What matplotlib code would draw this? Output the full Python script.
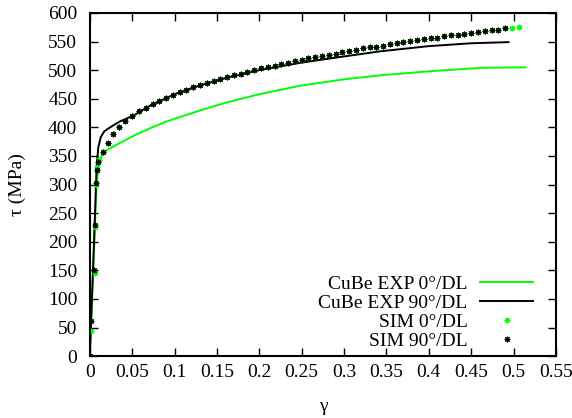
import matplotlib
matplotlib.use("Agg")
import matplotlib.pyplot as plt

## ----------------------------------------------------------------------------
## Data
## ----------------------------------------------------------------------------
exp0_gamma = [0.0, 0.004, 0.008, 0.011, 0.015, 0.020, 0.027, 0.040, 0.054, 0.072,
              0.090, 0.131, 0.160, 0.200, 0.249, 0.300, 0.343, 0.400, 0.461, 0.514]
exp0_tau = [0, 150, 300, 340, 353, 360, 366, 376, 387, 399,
            410, 430, 443, 458, 473, 484, 491, 498, 504, 505]

exp90_gamma = [0.0, 0.005, 0.008, 0.010, 0.013, 0.017, 0.025, 0.035, 0.052, 0.070,
               0.100, 0.131, 0.160, 0.200, 0.249, 0.300, 0.343, 0.400, 0.450, 0.494]
exp90_tau = [0, 200, 330, 365, 383, 393, 401, 410, 421, 437,
             458, 474, 486, 500, 513, 524, 533, 542, 547, 549]

sim_gamma = [0.050, 0.058, 0.066, 0.074, 0.082, 0.090, 0.098, 0.106, 0.114, 0.122,
             0.130, 0.138, 0.146, 0.154, 0.162, 0.170, 0.178, 0.186, 0.194, 0.202,
             0.210, 0.218, 0.226, 0.234, 0.242, 0.250, 0.258, 0.266, 0.274, 0.282,
             0.290, 0.298, 0.306, 0.314, 0.322, 0.330, 0.338, 0.346, 0.354, 0.362,
             0.370, 0.378, 0.386, 0.394, 0.402, 0.410, 0.418, 0.426, 0.434, 0.442,
             0.450, 0.458, 0.466, 0.474, 0.482, 0.490, 0.498, 0.506]
sim_tau = [420, 428, 434, 441, 446, 452, 456, 461, 465, 470,
           474, 477, 481, 484, 488, 491, 494, 497, 500, 503,
           506, 508, 511, 513, 516, 518, 521, 523, 525, 527,
           529, 532, 534, 536, 538, 540, 541, 543, 545, 547,
           549, 551, 552, 554, 556, 557, 559, 561, 562, 564,
           565, 567, 568, 570, 571, 573, 574, 575]

sim0_start_gamma = [0.0, 0.002, 0.006, 0.006, 0.007, 0.009, 0.011, 0.015, 0.021, 0.027, 0.034, 0.042]
sim0_start_tau = [0, 44, 145, 225, 300, 330, 343, 357, 372, 388, 400, 411]
sim90_start_gamma = [0.0, 0.002, 0.005, 0.006, 0.007, 0.008, 0.010, 0.015, 0.021, 0.027, 0.034, 0.042]
sim90_start_tau = [0, 62, 150, 229, 303, 325, 340, 357, 373, 389, 401, 411]

# green SIM runs to the end of the grid, black stops two points short
sim0_gamma = sim0_start_gamma + sim_gamma
sim0_tau = sim0_start_tau + sim_tau
sim90_gamma = sim90_start_gamma + sim_gamma[:-2]
sim90_tau = sim90_start_tau + sim_tau[:-2]

xticks = [0, 0.05, 0.1, 0.15, 0.2, 0.25, 0.3, 0.35, 0.4, 0.45, 0.5, 0.55]
xticklabels = ["0", "0.05", "0.1", "0.15", "0.2", "0.25", "0.3", "0.35", "0.4", "0.45", "0.5", "0.55"]
yticks = list(range(0, 601, 50))

## ----------------------------------------------------------------------------
## Plot
## ----------------------------------------------------------------------------
plt.rcParams['font.family'] = ['Liberation Serif', 'DejaVu Serif']
plt.rcParams['font.size'] = 14

fig = plt.figure(figsize=(5.72, 4.18), dpi=100)
ax = fig.add_axes([0.157, 0.148, 0.815, 0.821])

green = '#00ff00'
ast = (8, 2, 0)  # gnuplot style asterisk

ax.plot(exp0_gamma, exp0_tau, color=green, lw=1.4, label='CuBe EXP 0°/DL')
ax.plot(exp90_gamma, exp90_tau, color='black', lw=1.4, label='CuBe EXP 90°/DL')
ax.plot(sim0_gamma, sim0_tau, ls='none', marker=ast, ms=4, mew=0.8,
        color=green, label='SIM 0°/DL')
ax.plot(sim90_gamma, sim90_tau, ls='none', marker=ast, ms=4, mew=0.8,
        color='black', label='SIM 90°/DL')

ax.set_xlim(0, 0.55)
ax.set_ylim(0, 600)
ax.set_xticks(xticks)
ax.set_xticklabels(xticklabels)
ax.set_yticks(yticks)
ax.tick_params(direction='in', length=6, width=1, top=True, right=True,
               labelsize=14)
ax.tick_params(axis='x', pad=6)
ax.tick_params(axis='y', pad=9)
for sp in ax.spines.values():
    sp.set_linewidth(1.5)

ax.set_xlabel('γ', labelpad=12)
ax.set_ylabel('τ (MPa)', labelpad=16)

leg = ax.legend(loc='lower right', frameon=False, markerfirst=False,
                numpoints=1, handlelength=2.7, handletextpad=0.67,
                labelspacing=0.06, borderpad=0, borderaxespad=0,
                bbox_to_anchor=(0.9506, 0.019))

fig.savefig('out.png', dpi=100)
